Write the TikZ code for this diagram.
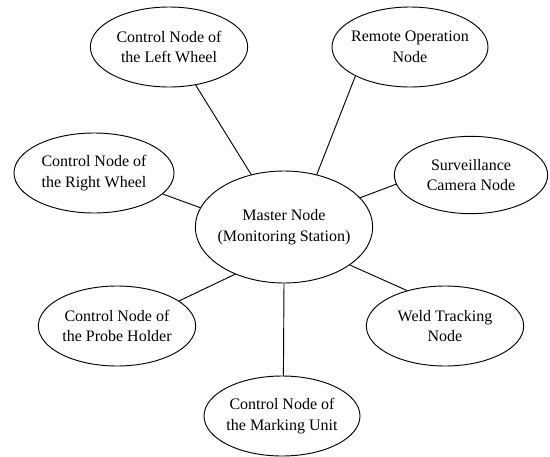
\documentclass[tikz,border=0pt]{standalone}
\usepackage{fontspec}
\setmainfont{Liberation Serif}
\usetikzlibrary{shapes.geometric}

\tikzset{
  station/.style={draw, ellipse, line width=0.7pt, inner xsep=-4pt, inner ysep=0pt,
    align=center, minimum width=118pt, minimum height=60pt,
    font=\fontsize{12}{15.5}\selectfont},
  hub/.style={station, inner xsep=-12pt, minimum width=133pt, minimum height=84pt},
  link/.style={line width=0.7pt}
}

\begin{document}
\begin{tikzpicture}[x=0.75pt, y=-0.75pt]
    % Marco del dibujo
    \useasboundingbox (0,0) rectangle (550,457);

    % Nodo central
    \node[hub] (master) at (284,227) {Master Node\\(Monitoring Station)};

    % Nodos alrededor
    \node[station] (leftw)   at (169,47)  {Control Node of\\the Left Wheel};
    \node[station, minimum width=117pt] (remote) at (410,47) {Remote Operation\\Node};
    \node[station, minimum width=115pt, minimum height=58pt] (camera) at (471,175) {Surveillance\\Camera Node};
    \node[station, minimum width=120pt] (rightw) at (94,173)  {Control Node of\\the Right Wheel};
    \node[station] (probe)   at (117,326) {Control Node of\\the Probe Holder};
    \node[station] (weld)    at (445,326) {Weld Tracking\\Node};
    \node[station, minimum width=117pt] (marking) at (282,416) {Control Node of\\the Marking Unit};

    % Conexiones al nodo central
    \draw[link] (leftw.305)  -- (master.122);
    \draw[link] (remote.208) -- (master.58);
    \draw[link] (camera.187) -- (master.21);
    \draw[link] (rightw.343) -- (master.167);
    \draw[link] (probe.22)   -- (master.224);
    \draw[link] (weld.137)   -- (master.330);
    \draw[link] (marking.88) -- (master.south);

\end{tikzpicture}
\end{document}
